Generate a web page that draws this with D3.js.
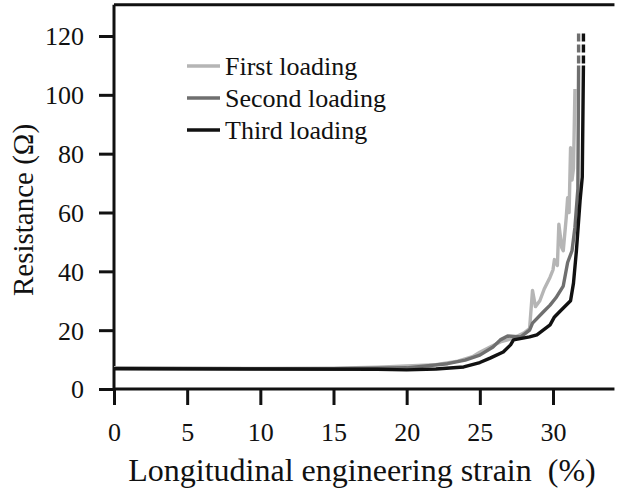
<!DOCTYPE html>
<html>
<head>
<meta charset="utf-8">
<script src="https://cdn.jsdelivr.net/npm/d3@7"></script>
</head>
<body style="margin:0">
<script>
// ---- data (strain %, resistance Ω) ----
const seriesNames = ["First loading", "Second loading", "Third loading"];
const firstLoading = [[0,7.2],[5,7.1],[10,7.0],[15,7.1],[18,7.4],[20,7.8],[22,8.3],[23.5,9.5],[24.5,11],[25,12.5],[25.7,14.3],[26.4,16],[27.3,17.3],[28,19],[28.4,20.5],[28.5,27],[28.6,33.5],[28.8,28],[29.1,30],[29.4,34],[29.8,38],[30,40.5],[30.1,44],[30.3,42],[30.4,56],[30.6,48],[30.7,47],[30.9,58],[31,65],[31.1,60],[31.2,82],[31.3,71],[31.4,75],[31.5,102]];
const secondLoading = [[0,7.0],[10,6.9],[15,6.9],[20,7.2],[22.8,8.6],[24,9.8],[25,11.5],[25.9,14.3],[26.4,16.7],[26.9,18],[27.8,17.7],[28.4,20],[28.6,22.4],[29.3,26],[29.8,28.5],[30.2,31],[30.7,35],[31.0,43],[31.3,47],[31.5,55],[31.7,68],[31.75,110]];
const thirdLoading = [[0,6.9],[10,6.8],[18,6.7],[20,6.5],[22,6.8],[23.9,7.5],[25,9],[25.7,10.5],[26.6,12.6],[27.1,15],[27.3,16.7],[28.4,17.7],[28.9,18.4],[29.8,21.8],[30.1,24.5],[30.5,26.5],[31.2,30],[31.4,36],[31.6,47],[31.85,64],[32.0,72],[32.08,110]];
const dashedTop = 121;             // curves continue (dashed) off-scale
const xTicks = [0,5,10,15,20,25,30];
const yTicks = [0,20,40,60,80,100,120];

const FONT = '"Liberation Serif"';
const W = 618, H = 494;
const svg = d3.select("body").append("svg").attr("width", W).attr("height", H).style("display", "block");

const x = d3.scaleLinear().domain([0, 30]).range([114, 553]);
const y = d3.scaleLinear().domain([0, 120]).range([389, 36]);
const xMax = 34.2, yMax = 130.6;

const colors = ["#b5b5b5", "#6f6f6f", "#111111"];
const data = [firstLoading, secondLoading, thirdLoading];

// frame top
svg.append("path").attr("d", `M${x(0)},${y(yMax)}H${x(xMax)}`)
  .attr("stroke", "#111").attr("stroke-width", 3).attr("fill", "none");

// axes
const xAxis = svg.append("g").attr("transform", `translate(0,${y(0)})`)
  .call(d3.axisBottom(x).tickValues(xTicks).tickSize(16).tickPadding(18).tickSizeOuter(0).tickFormat(d3.format("d")));
xAxis.select(".domain").attr("d", `M${x(0)},0H${x(xMax)}`);
const yAxis = svg.append("g").attr("transform", `translate(${x(0)},0)`)
  .call(d3.axisLeft(y).tickValues(yTicks).tickSize(15).tickPadding(15).tickSizeOuter(0));
yAxis.select(".domain").attr("d", `M0,${y(0)}V${y(yMax)}`);
[xAxis, yAxis].forEach(a => {
  a.attr("font-family", null).attr("font-size", null);
  a.selectAll(".domain, .tick line").attr("stroke", "#111").attr("stroke-width", 3);
  a.selectAll(".tick text").attr("font-size", 26).style("font-family", FONT).attr("fill", "#111");
});
yAxis.selectAll(".tick text").attr("dy", "0.34em");

// curves
data.forEach((s, i) => {
  svg.append("path").datum(s).attr("d", d3.line().x(d => x(d[0])).y(d => y(d[1])))
    .attr("fill", "none").attr("stroke", colors[i]).attr("stroke-width", 3.4)
    .attr("stroke-linejoin", "round");
});
// dashed continuation above the axis range
[1, 2].forEach(i => {
  const last = data[i][data[i].length - 1];
  svg.append("line")
    .attr("x1", x(last[0])).attr("x2", x(last[0]))
    .attr("y1", y(last[1]) - 2).attr("y2", y(dashedTop))
    .attr("stroke", colors[i]).attr("stroke-width", 3.4).attr("stroke-dasharray", "8,3");
});

// legend
seriesNames.forEach((n, i) => {
  const ly = 66 + i * 32;
  svg.append("line").attr("x1", 187).attr("x2", 220).attr("y1", ly).attr("y2", ly)
    .attr("stroke", colors[i]).attr("stroke-width", 3.4);
  svg.append("text").attr("x", 225).attr("y", ly + 9)
    .attr("font-size", 26).style("font-family", FONT).attr("fill", "#111").text(n);
});

// axis titles
svg.append("text").attr("x", 362).attr("y", 481).attr("text-anchor", "middle")
  .attr("font-size", 32).style("font-family", FONT).attr("fill", "#111")
  .text("Longitudinal engineering strain\u00a0\u00a0(%)");
svg.append("text").attr("transform", `translate(33,${210}) rotate(-90)`).attr("text-anchor", "middle")
  .attr("font-size", 29).style("font-family", FONT).attr("fill", "#111").text("Resistance (Ω)");
</script>
</body>
</html>
